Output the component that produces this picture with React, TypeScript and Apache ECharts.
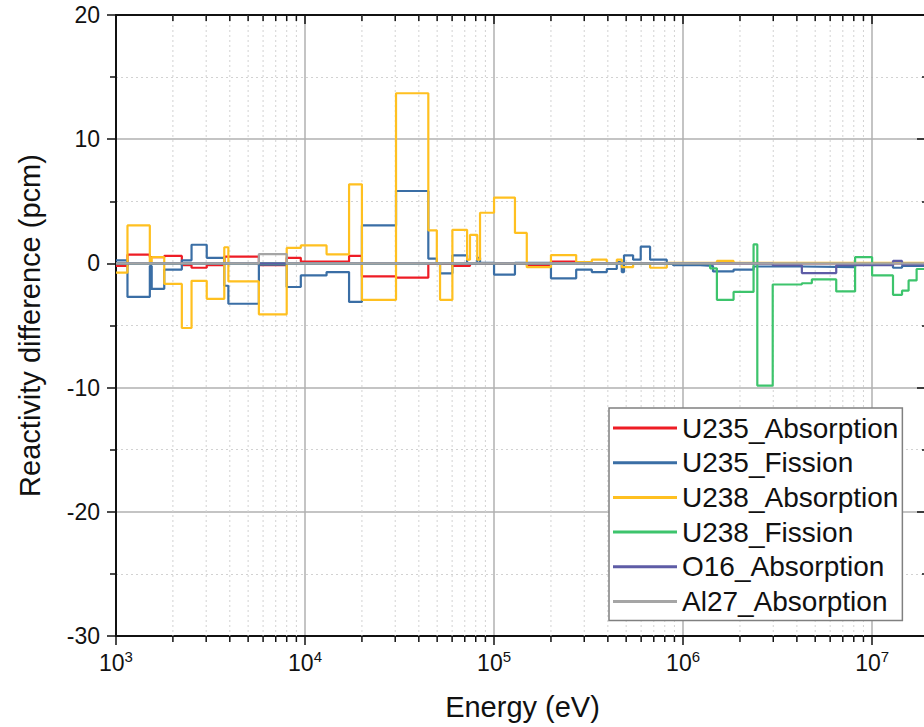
import React, { useEffect, useRef } from "react";
import * as echarts from "echarts";

const FONT = "'Liberation Sans', Arial, sans-serif";

// Energy group edges (eV) and values (pcm) for each series; step plots
const u235AbsEdges = [1000, 1150, 1510, 1800, 2230, 2510, 3020, 3740, 5700, 8000, 9500, 17100, 20000, 30300, 44900, 60200, 74600, 149000, 200000, 272000, 20000000];
const u235AbsValues = [-0.2, 0.7, 0.5, 0.6, -0.15, -0.35, -0.15, 0.55, -0.15, 0.45, 0.15, 0.6, -1.05, -1.15, -0.05, -0.2, 0.0, -0.15, 0.15, 0.02];

const u235FisEdges = [1000, 1150, 1510, 1545, 1800, 2230, 2510, 3020, 3740, 3930, 5700, 8000, 9500, 13000, 17100, 20000, 30300, 44900, 49800, 51800, 60200, 72000, 81500, 84300, 100000, 129000, 200000, 272000, 329000, 395000, 446000, 474000, 487000, 544000, 597000, 669000, 820000, 885000, 1230000, 1440000, 1850000, 2360000, 4250000, 8130000, 10000000, 12900000, 14400000, 20000000];
const u235FisValues = [0.25, -2.7, -0.2, -2.05, -0.5, 0.25, 1.5, 0.45, -1.8, -3.25, -0.1, -1.9, -0.97, -0.7, -3.1, 3.06, 5.83, 0.38, 0.0, -0.8, 0.65, 0.0, 0.45, 0.05, -0.9, 0.05, -1.2, -0.5, -0.7, -0.45, 0.1, -0.7, 0.65, 0.3, 1.35, 0.3, -0.05, -0.15, -0.2, -0.65, -0.5, -0.25, -0.3, -0.1, -0.05, -0.35, -0.2];

const u238AbsEdges = [1000, 1150, 1510, 1545, 1800, 2230, 2510, 3020, 3740, 3930, 5700, 8000, 9500, 13000, 17100, 20000, 30300, 44900, 49800, 51800, 60200, 72000, 74600, 81500, 84300, 100000, 129000, 149000, 200000, 272000, 329000, 395000, 446000, 474000, 544000, 669000, 820000, 1510000, 1850000, 20000000];
const u238AbsValues = [-0.75, 3.06, 0.0, 0.5, -1.65, -5.2, -1.4, -2.85, 1.3, -1.45, -4.1, 1.25, 1.45, 0.73, 6.37, -2.93, 13.7, 2.66, 0.0, -2.93, 2.7, 0.3, 2.3, 0.3, 4.08, 5.3, 2.45, -0.3, 0.67, 0.1, 0.3, 0.0, 0.3, -0.3, 0.0, -0.35, 0.05, 0.2, 0.05];

const u238FisEdges = [1000, 1390000, 1510000, 1850000, 2360000, 2470000, 2980000, 4250000, 4800000, 6460000, 8130000, 10000000, 12900000, 14400000, 15600000, 17200000, 20000000];
const u238FisValues = [0.0, -0.4, -2.93, -2.3, 1.53, -9.84, -1.7, -1.6, -1.29, -2.26, 0.5, -0.97, -2.53, -2.2, -1.37, -0.45];

const o16AbsEdges = [1000, 2980000, 4250000, 6460000, 12900000, 14400000, 20000000];
const o16AbsValues = [0.0, -0.15, -0.78, -0.15, 0.2, -0.1];

const al27AbsEdges = [1000, 5700, 8000, 20000000];
const al27AbsValues = [0.0, 0.75, 0.0];

const seriesNames = ["U235_Absorption", "U235_Fission", "U238_Absorption", "U238_Fission", "O16_Absorption", "Al27_Absorption"];
const seriesColors = ["#ee1c25", "#3a6ea5", "#ffc020", "#3dc46c", "#5e5ca6", "#a5a5a5"];
const seriesEdges = [u235AbsEdges, u235FisEdges, u238AbsEdges, u238FisEdges, o16AbsEdges, al27AbsEdges];
const seriesValues = [u235AbsValues, u235FisValues, u238AbsValues, u238FisValues, o16AbsValues, al27AbsValues];

const xMin = 1000;
const xMax = 20000000;
const yMin = -30;
const yMax = 20;
const minorEnergies: number[] = [];
[1e3, 1e4, 1e5, 1e6].forEach((d) => {
  for (let k = 2; k <= 9; k++) minorEnergies.push(k * d);
});

function stepData(edges: number[], values: number[]) {
  return edges.map((e, i) => [e, values[Math.min(i, values.length - 1)]]);
}

export default function App() {
  const ref = useRef<HTMLDivElement>(null);
  useEffect(() => {
    if (!ref.current) return;
    const chart = echarts.init(ref.current, undefined, { renderer: "svg" });
    const axisColor = "#111";
    const lineSeries = seriesNames.map((name, i) => ({
      name,
      type: "line",
      step: "end",
      data: stepData(seriesEdges[i], seriesValues[i]),
      symbol: "none",
      showSymbol: false,
      color: seriesColors[i],
      lineStyle: { color: seriesColors[i], width: 2.2 },
      z: 3 + i,
      xAxisIndex: 0,
      yAxisIndex: 0,
    }));
    const option: any = {
      animation: false,
      grid: { left: 116, right: 1, top: 15, bottom: 91 },
      legend: {
        data: seriesNames,
        orient: "vertical",
        left: 609,
        top: 408,
        padding: [5, 4, 4, 4],
        itemGap: 4.7,
        itemWidth: 64,
        itemHeight: 3,
        icon: "rect",
        borderColor: "#808080",
        borderWidth: 1.5,
        borderRadius: 0,
        backgroundColor: "#fff",
        textStyle: { fontSize: 28, lineHeight: 30, color: "#111", fontFamily: FONT },
      },
      xAxis: [
        {
          type: "log",
          logBase: 10,
          min: xMin,
          max: xMax,
          position: "bottom",
          name: "Energy (eV)",
          nameLocation: "middle",
          nameGap: 56,
          nameTextStyle: { fontSize: 29, color: "#111", fontFamily: FONT },
          axisLine: { show: true, onZero: false, lineStyle: { color: axisColor, width: 2 } },
          axisTick: { show: true, inside: false, length: 9, lineStyle: { color: axisColor, width: 1.5 } },
          axisLabel: {
            showMaxLabel: false,
            margin: 13,
            formatter: (v: number) => "{b|10}{s|" + Math.round(Math.log10(v)) + "}",
            rich: {
              b: { fontSize: 23, lineHeight: 27, color: "#111", fontFamily: FONT },
              s: { fontSize: 15, lineHeight: 27, verticalAlign: "top", color: "#111", fontFamily: FONT },
            },
          },
          splitLine: { show: true, lineStyle: { color: "#b0b0b0", width: 1.5 } },
        },
        {
          type: "log",
          logBase: 10,
          min: xMin,
          max: xMax,
          position: "top",
          axisLine: { show: true, onZero: false, lineStyle: { color: axisColor, width: 2 } },
          axisTick: { show: true, inside: true, length: 9, lineStyle: { color: axisColor, width: 1.5 } },
          axisLabel: { show: false },
          splitLine: { show: false },
        },
      ],
      yAxis: [
        {
          type: "value",
          min: yMin,
          max: yMax,
          interval: 10,
          name: "Reactivity difference (pcm)",
          nameLocation: "middle",
          nameGap: 72,
          nameTextStyle: { fontSize: 29, color: "#111", fontFamily: FONT },
          axisLine: { show: true, onZero: false, lineStyle: { color: axisColor, width: 2 } },
          axisTick: { show: true, length: 9, lineStyle: { color: axisColor, width: 1.5 } },
          minorTick: { show: true, splitNumber: 2, length: 6, lineStyle: { color: axisColor, width: 1.5 } },
          minorSplitLine: { show: true, lineStyle: { color: "#d2d2d2", width: 1, type: [2, 3] } },
          splitLine: { show: true, lineStyle: { color: "#b0b0b0", width: 1.5 } },
          axisLabel: { fontSize: 23, margin: 16, color: "#111", fontFamily: FONT },
        },
        {
          type: "value",
          min: yMin,
          max: yMax,
          interval: 10,
          position: "right",
          axisLine: { show: true, onZero: false, lineStyle: { color: axisColor, width: 2 } },
          axisTick: { show: true, inside: true, length: 12, lineStyle: { color: axisColor, width: 1.5 } },
          minorTick: { show: true, splitNumber: 2, length: 7, lineStyle: { color: axisColor, width: 1.5 } },
          axisLabel: { show: false },
          splitLine: { show: false },
        },
      ],
      series: [
        {
          type: "custom",
          name: "minor",
          xAxisIndex: 0,
          yAxisIndex: 0,
          silent: true,
          clip: false,
          z: 1,
          data: minorEnergies.map((e) => [e, 0]),
          encode: { x: 0, y: 1 },
          renderItem: (_params: any, api: any) => {
            const x = api.value(0);
            const top = api.coord([x, yMax]);
            const bot = api.coord([x, yMin]);
            return {
              type: "group",
              children: [
                { type: "line", shape: { x1: top[0], y1: top[1], x2: bot[0], y2: bot[1] }, style: { stroke: "#d2d2d2", lineWidth: 1, lineDash: [2, 3] } },
                { type: "line", shape: { x1: bot[0], y1: bot[1], x2: bot[0], y2: bot[1] + 6 }, style: { stroke: axisColor, lineWidth: 1.5 } },
                { type: "line", shape: { x1: top[0], y1: top[1], x2: top[0], y2: top[1] + 6 }, style: { stroke: axisColor, lineWidth: 1.5 } },
              ],
            };
          },
        },
        ...lineSeries,
      ],
    };
    chart.setOption(option);
    return () => chart.dispose();
  }, []);
  return (
    <div style={{ position: "fixed", left: 0, top: 0, width: 924, height: 727, overflow: "hidden", background: "#fff" }}>
      <div ref={ref} style={{ width: 930, height: 727 }} />
    </div>
  );
}
